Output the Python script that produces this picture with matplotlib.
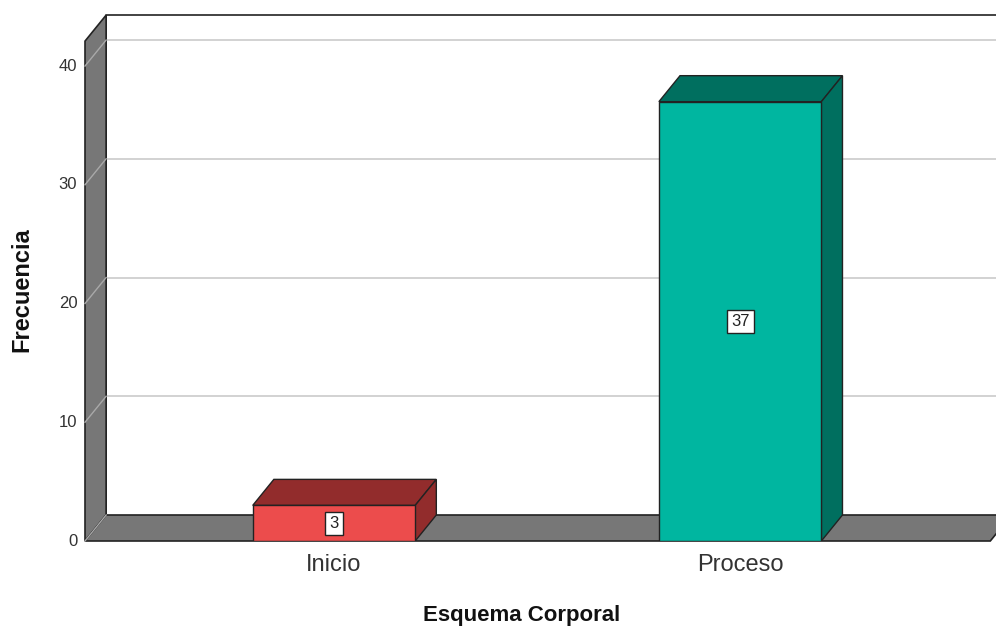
import matplotlib.pyplot as plt
from matplotlib.patches import Polygon

plt.rcParams["font.family"] = ["Liberation Sans", "DejaVu Sans"]

categories = ["Inicio", "Proceso"]
frecuencias = [3, 37]
y_ticks = [0, 10, 20, 30, 40]
front_colors = ["#ec4c4c", "#00b6a0"]
dark_colors = ["#922c2c", "#006f5f"]

# 3d look: depth offset in data units
dx, dy = 0.052, 2.19
half_w = 0.2
x0, x1 = -0.613, 1.616
wall_h = 42.1
edge = "#222222"
wall_gray = "#777777"

fig = plt.figure(figsize=(9.96, 6.3), dpi=100)
ax = fig.add_axes([85 / 996, 89 / 630, 911 / 996, 526 / 630])
ax.set_xlim(-0.613, 1.630)
ax.set_ylim(0, 44.3)
ax.axis("off")

# back wall grid
for t in y_ticks[1:]:
    ax.plot([x0 + dx, x1 + dx + 0.1], [t + dy, t + dy], color="#cfcfcf", lw=1.3, clip_on=False, zorder=1)

# back wall border (top and left)
ax.plot([x0 + dx, x0 + dx, x1 + dx + 0.1], [dy, wall_h + dy, wall_h + dy], color=edge, lw=1.2, clip_on=False, zorder=2)

# left wall
ax.add_patch(Polygon([(x0, 0), (x0 + dx, dy), (x0 + dx, wall_h + dy), (x0, wall_h)],
                     closed=True, facecolor=wall_gray, edgecolor=edge, lw=1.2, clip_on=False, zorder=3))
for t in y_ticks:
    ax.plot([x0, x0 + dx], [t, t + dy], color="#a9a9a9", lw=1.0, clip_on=False, zorder=4)

# floor
ax.add_patch(Polygon([(x0, 0), (x1, 0), (x1 + dx, dy), (x0 + dx, dy)],
                     closed=True, facecolor=wall_gray, edgecolor=edge, lw=1.2, clip_on=False, zorder=3))

# bars
for i, (v, fc, dc) in enumerate(zip(frecuencias, front_colors, dark_colors)):
    l, r = i - half_w, i + half_w
    ax.add_patch(Polygon([(l, v), (r, v), (r + dx, v + dy), (l + dx, v + dy)],
                         closed=True, facecolor=dc, edgecolor=edge, lw=1.0, zorder=5))
    ax.add_patch(Polygon([(r, 0), (r + dx, dy), (r + dx, v + dy), (r, v)],
                         closed=True, facecolor=dc, edgecolor=edge, lw=1.0, zorder=5))
    ax.add_patch(Polygon([(l, 0), (r, 0), (r, v), (l, v)],
                         closed=True, facecolor=fc, edgecolor=edge, lw=1.0, zorder=6))
    ax.text(i, v / 2, str(v), ha="center", va="center", fontsize=12, color="#222222", zorder=7,
            bbox=dict(boxstyle="square,pad=0.25", facecolor="white", edgecolor=edge, lw=1.0))

# tick labels
for t in y_ticks:
    ax.text(-0.632, t, str(t), ha="right", va="center", fontsize=12, color="#333333")
for i, c in enumerate(categories):
    ax.text(i, -2.0, c, ha="center", va="center", fontsize=17, color="#333333")

fig.text(522 / 996, 1 - 615 / 630, "Esquema Corporal", ha="center", va="center",
         fontsize=16, fontweight="bold", color="#111111")
fig.text(22 / 996, 1 - 290 / 630, "Frecuencia", ha="center", va="center",
         fontsize=17, fontweight="bold", rotation=90, color="#111111")

fig.savefig("out.png", dpi=100)
